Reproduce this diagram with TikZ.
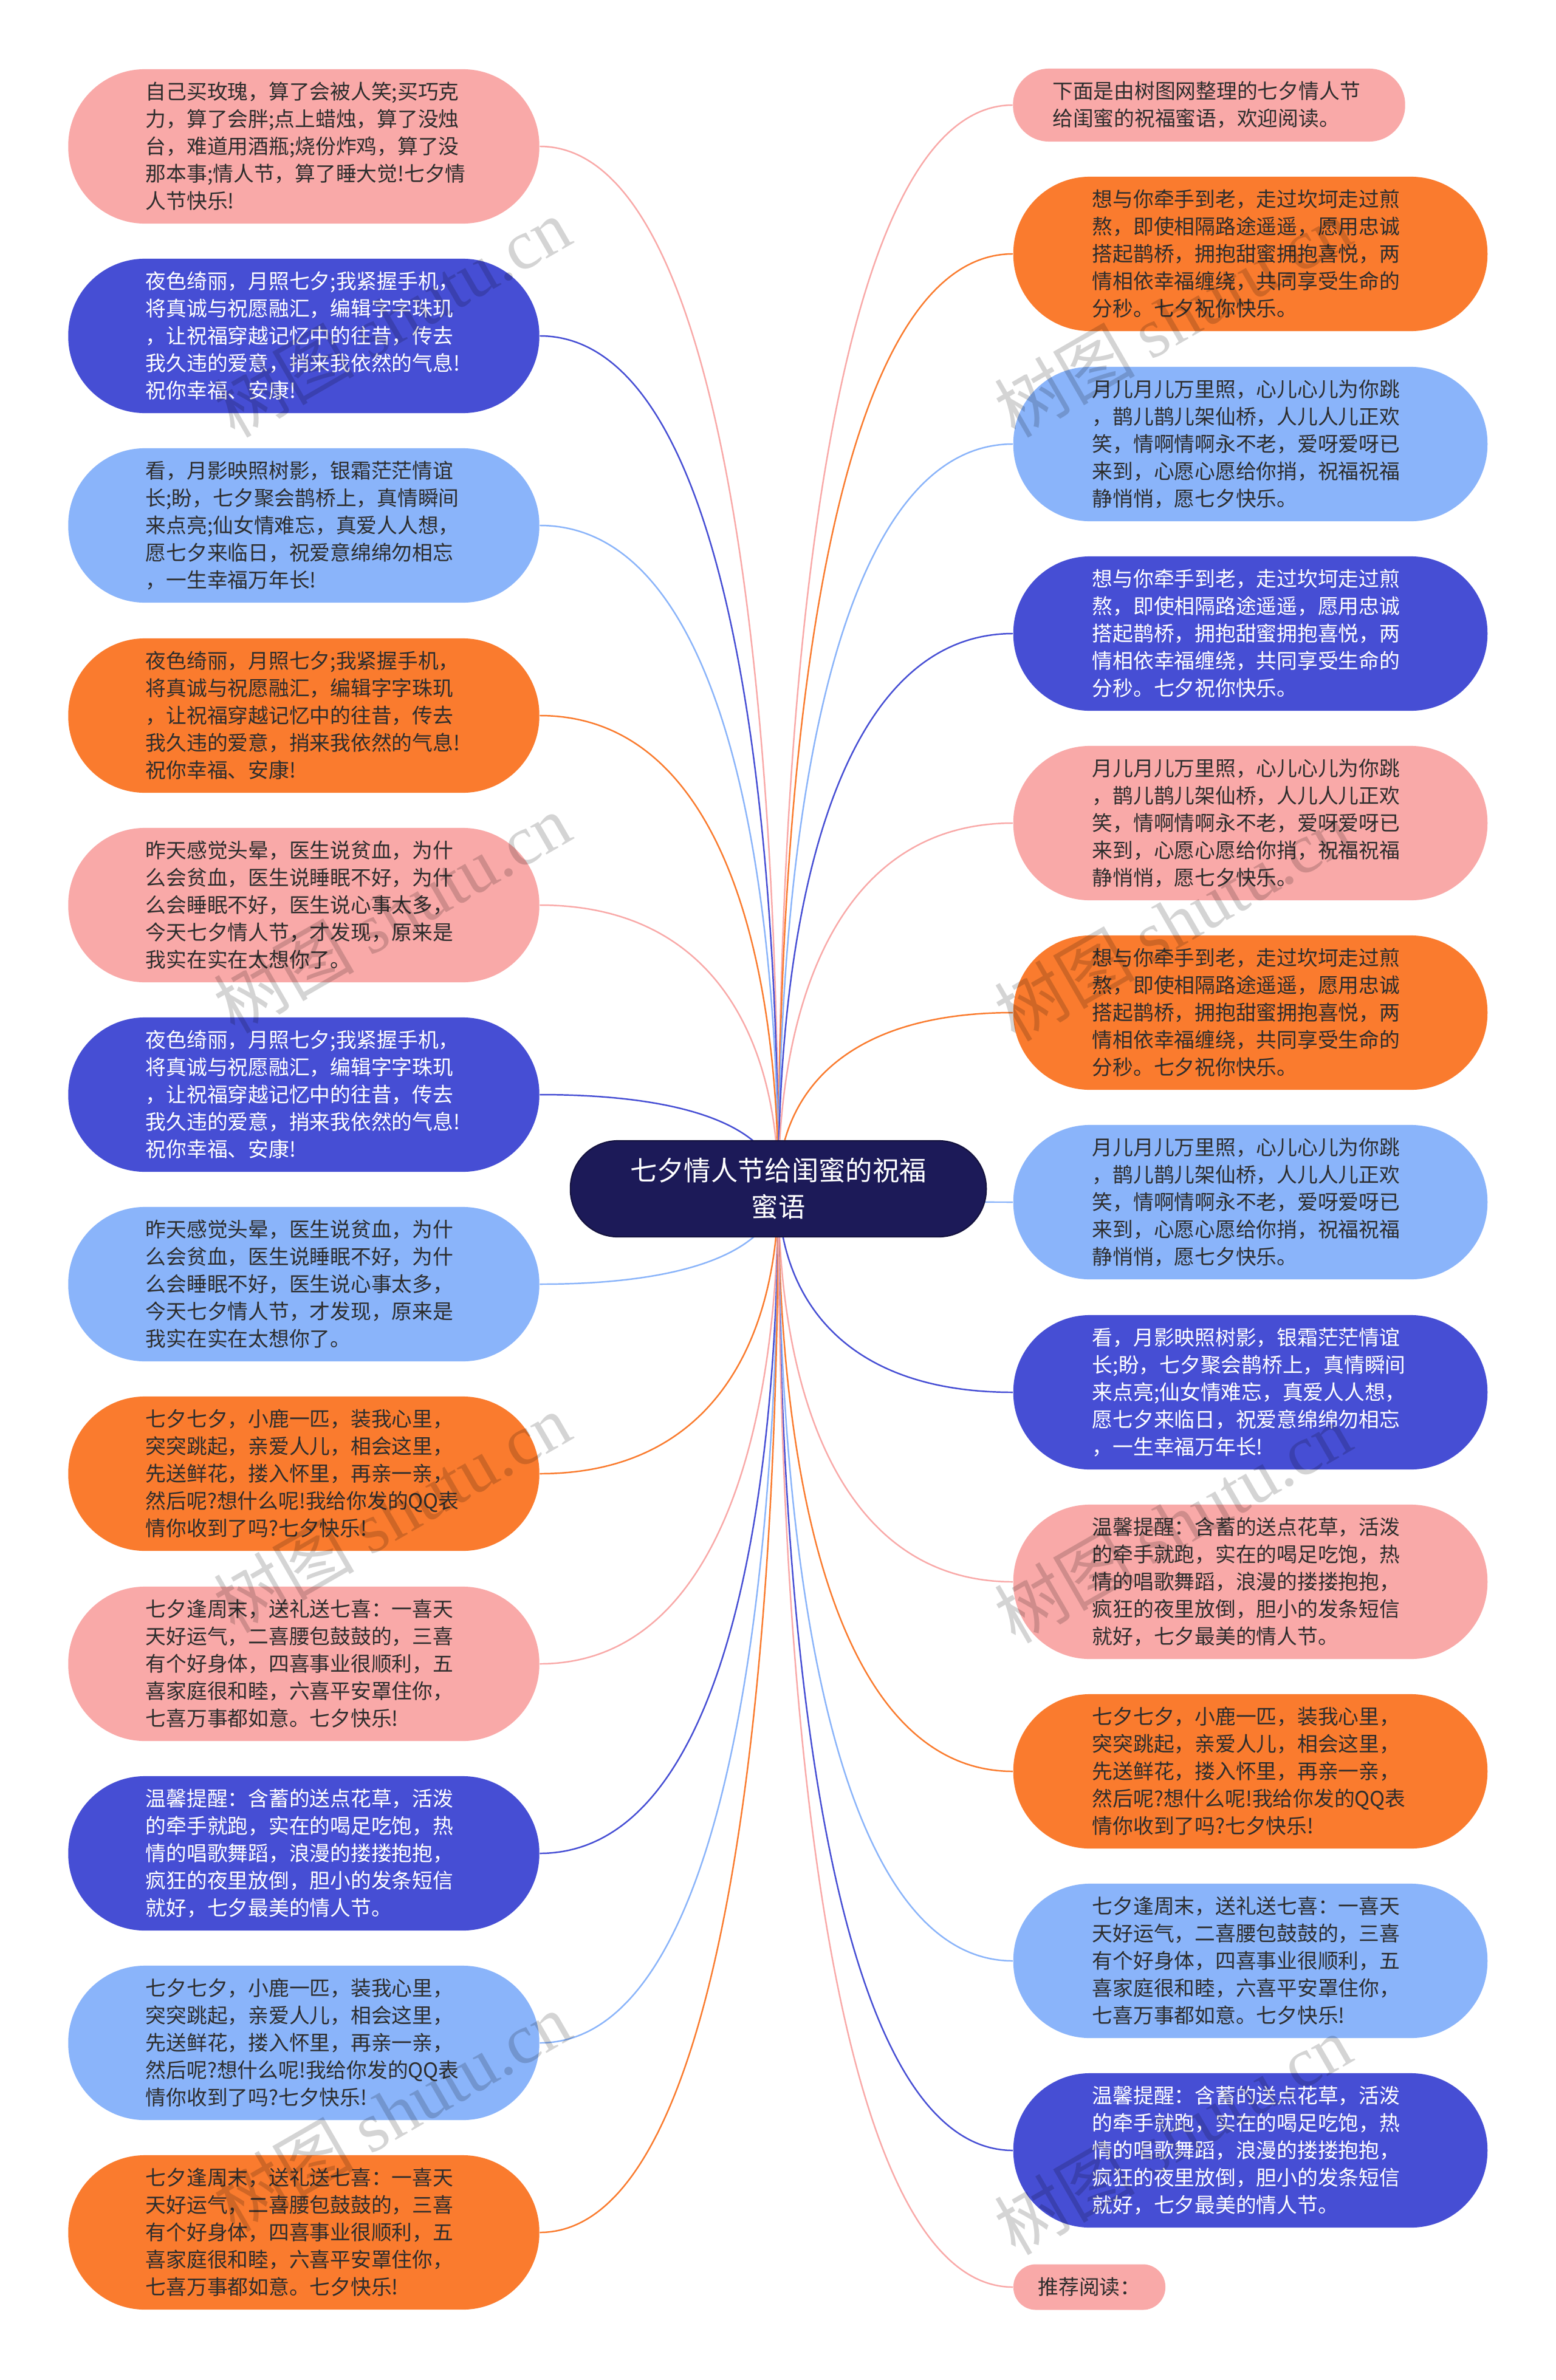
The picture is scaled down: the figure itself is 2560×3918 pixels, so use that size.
\documentclass[tikz,border=0pt]{standalone}
\usepackage{fontspec}
\setmainfont{Noto Sans CJK SC}
\newfontfamily\wmserif{Liberation Serif}
\usetikzlibrary{calc}
\pgfdeclarelayer{back}
\pgfdeclarelayer{bg}
\pgfsetlayers{back,bg,main}

\definecolor{cpink}{RGB}{249,169,168}
\definecolor{cnavy}{RGB}{70,78,212}
\definecolor{clight}{RGB}{138,180,250}
\definecolor{corange}{RGB}{250,123,46}
\definecolor{croot}{RGB}{28,26,88}
\definecolor{ctext}{RGB}{45,45,45}

\newcommand\wishZiji{自己买玫瑰，算了会被人笑;买巧克\\力，算了会胖;点上蜡烛，算了没烛\\台，难道用酒瓶;烧份炸鸡，算了没\\那本事;情人节，算了睡大觉!七夕情\\人节快乐!}
\newcommand\wishYese{夜色绮丽，月照七夕;我紧握手机，\\将真诚与祝愿融汇，编辑字字珠玑\\，让祝福穿越记忆中的往昔，传去\\我久违的爱意，捎来我依然的气息!\\祝你幸福、安康!}
\newcommand\wishKan{看，月影映照树影，银霜茫茫情谊\\长;盼，七夕聚会鹊桥上，真情瞬间\\来点亮;仙女情难忘，真爱人人想，\\愿七夕来临日，祝爱意绵绵勿相忘\\，一生幸福万年长!}
\newcommand\wishZuotian{昨天感觉头晕，医生说贫血，为什\\么会贫血，医生说睡眠不好，为什\\么会睡眠不好，医生说心事太多，\\今天七夕情人节，才发现，原来是\\我实在实在太想你了。}
\newcommand\wishQixi{七夕七夕，小鹿一匹，装我心里，\\突突跳起，亲爱人儿，相会这里，\\先送鲜花，搂入怀里，再亲一亲，\\然后呢?想什么呢!我给你发的QQ表\\情你收到了吗?七夕快乐!}
\newcommand\wishZhoumo{七夕逢周末，送礼送七喜：一喜天\\天好运气，二喜腰包鼓鼓的，三喜\\有个好身体，四喜事业很顺利，五\\喜家庭很和睦，六喜平安罩住你，\\七喜万事都如意。七夕快乐!}
\newcommand\wishWenxin{温馨提醒：含蓄的送点花草，活泼\\的牵手就跑，实在的喝足吃饱，热\\情的唱歌舞蹈，浪漫的搂搂抱抱，\\疯狂的夜里放倒，胆小的发条短信\\就好，七夕最美的情人节。}
\newcommand\wishQianshou{想与你牵手到老，走过坎坷走过煎\\熬，即使相隔路途遥遥，愿用忠诚\\搭起鹊桥，拥抱甜蜜拥抱喜悦，两\\情相依幸福缠绕，共同享受生命的\\分秒。七夕祝你快乐。}
\newcommand\wishYueer{月儿月儿万里照，心儿心儿为你跳\\，鹊儿鹊儿架仙桥，人儿人儿正欢\\笑，情啊情啊永不老，爱呀爱呀已\\来到，心愿心愿给你捎，祝福祝福\\静悄悄，愿七夕快乐。}

\tikzset{
  leaf/.style={rectangle, draw=none, rounded corners=1.26cm, minimum height=2.54cm,
    text width=5.2cm, inner ysep=0pt, align=left,
    font=\fontsize{9.6pt}{12.8pt}\selectfont},
  lbox/.style={leaf, inner xsep=1.275cm},
  rbox/.style={leaf, inner xsep=1.3cm},
  pk/.style={fill=cpink, text=ctext},
  nv/.style={fill=cnavy, text=white},
  lb/.style={fill=clight, text=ctext},
  og/.style={fill=corange, text=ctext},
  rootbox/.style={rectangle, fill=croot, draw=croot!70!black, line width=0.6pt,
    rounded corners=0.78cm, minimum width=6.84cm, minimum height=1.58cm,
    text=white, align=center, font=\fontsize{12.6pt}{17pt}\selectfont},
  conn/.style={line width=0.7pt},
  wm/.style={rotate=30, text=black, opacity=0.17, inner sep=0pt,
    font=\fontsize{33pt}{33pt}\selectfont}
}

\begin{document}
\begin{tikzpicture}[x=0.01cm, y=-0.01cm]
\begin{pgfonlayer}{back}
\fill[white] (0,0) rectangle (2560,3918);
\end{pgfonlayer}
\useasboundingbox (0,0) rectangle (2560,3918);

% root
\node[rootbox] (root) at (1281,1957) {七夕情人节给闺蜜的祝福\\蜜语};

% left column
\node[lbox,pk] (L1)  at (500,241)  {\wishZiji};
\node[lbox,nv] (L2)  at (500,553)  {\wishYese};
\node[lbox,lb] (L3)  at (500,865)  {\wishKan};
\node[lbox,og] (L4)  at (500,1178) {\wishYese};
\node[lbox,pk] (L5)  at (500,1490) {\wishZuotian};
\node[lbox,nv] (L6)  at (500,1802) {\wishYese};
\node[lbox,lb] (L7)  at (500,2114) {\wishZuotian};
\node[lbox,og] (L8)  at (500,2426) {\wishQixi};
\node[lbox,pk] (L9)  at (500,2739) {\wishZhoumo};
\node[lbox,nv] (L10) at (500,3051) {\wishWenxin};
\node[lbox,lb] (L11) at (500,3363) {\wishQixi};
\node[lbox,og] (L12) at (500,3675) {\wishZhoumo};

% right column
\node[pk, rectangle, rounded corners=0.59cm, minimum height=1.2cm, text width=5.15cm,
      inner xsep=0.65cm, inner ysep=0pt, align=left,
      font=\fontsize{9.6pt}{12.8pt}\selectfont] (R1) at (1990,173)
      {下面是由树图网整理的七夕情人节\\给闺蜜的祝福蜜语，欢迎阅读。};
\node[rbox,og] (R2)  at (2058,418)  {\wishQianshou};
\node[rbox,lb] (R3)  at (2058,731)  {\wishYueer};
\node[rbox,nv] (R4)  at (2058,1043) {\wishQianshou};
\node[rbox,pk] (R5)  at (2058,1355) {\wishYueer};
\node[rbox,og] (R6)  at (2058,1667) {\wishQianshou};
\node[rbox,lb] (R7)  at (2058,1979) {\wishYueer};
\node[rbox,nv] (R8)  at (2058,2292) {\wishKan};
\node[rbox,pk] (R9)  at (2058,2604) {\wishWenxin};
\node[rbox,og] (R10) at (2058,2916) {\wishQixi};
\node[rbox,lb] (R11) at (2058,3228) {\wishZhoumo};
\node[rbox,nv] (R12) at (2058,3540) {\wishWenxin};
\node[pk, rectangle, rounded corners=0.37cm, minimum height=0.75cm, minimum width=2.5cm,
      inner sep=0pt, font=\fontsize{9.6pt}{12.8pt}\selectfont] (R13) at (1793,3765) {推荐阅读：};

% connectors
\begin{pgfonlayer}{bg}
\foreach \n/\c in {L1/cpink,L2/cnavy,L3/clight,L4/corange,L5/cpink,L6/cnavy,
                   L7/clight,L8/corange,L9/cpink,L10/cnavy,L11/clight,L12/corange}
  \draw[conn, draw=\c] (\n.east) .. controls ($(\n.east)!0.75!(\n.east -| root.center)$)
        and ($(root.center)!0.5!(root.center |- \n.east)$) .. (root.center);
\foreach \n/\c in {R1/cpink,R2/corange,R3/clight,R4/cnavy,R5/cpink,R6/corange,
                   R7/clight,R8/cnavy,R9/cpink,R10/corange,R11/clight,R12/cnavy,R13/cpink}
  \draw[conn, draw=\c] (\n.west) .. controls ($(\n.west)!0.75!(\n.west -| root.center)$)
        and ($(root.center)!0.5!(root.center |- \n.west)$) .. (root.center);
\end{pgfonlayer}

% watermarks
\node[wm] (wm1) at (645,522)  {树图 {\wmserif shutu.cn}};
\node[wm] (wm2) at (645,1503) {树图 {\wmserif shutu.cn}};
\node[wm] (wm3) at (645,2490) {树图 {\wmserif shutu.cn}};
\node[wm] (wm4) at (645,3476) {树图 {\wmserif shutu.cn}};
\node[wm] (wm5) at (1930,522)  {树图 {\wmserif shutu.cn}};
\node[wm] (wm6) at (1930,1516) {树图 {\wmserif shutu.cn}};
\node[wm] (wm7) at (1930,2507) {树图 {\wmserif shutu.cn}};
\node[wm] (wm8) at (1930,3514) {树图 {\wmserif shutu.cn}};
\end{tikzpicture}
\end{document}
